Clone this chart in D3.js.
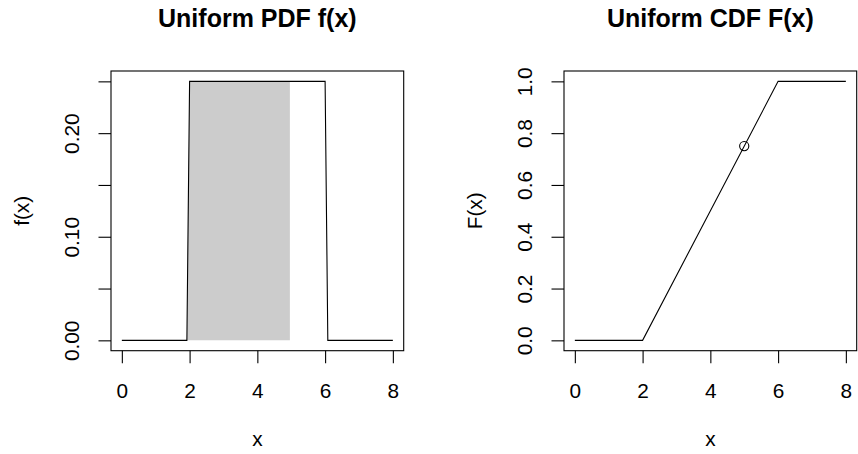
<!DOCTYPE html>
<html>
<head>
<meta charset="utf-8">
<script src="https://cdn.jsdelivr.net/npm/d3@7"></script>
<style>
  body { margin: 0; background: #fff; }
  svg { display: block; font-family: "Liberation Sans", Arial, sans-serif; }
</style>
</head>
<body>
<script>
'use strict';

// ---- data ----
// uniform(2, 6) density, sampled on a 0.08 grid (so the jumps are slightly slanted)
const pdfX = [0, 1.92, 2, 6, 6.08, 8];
const pdfY = [0, 0, 0.25, 0.25, 0, 0];
// shaded area P(X <= 5)
const shadeX = [1.92, 2, 4.96, 4.96];
const shadeY = [0, 0.25, 0.25, 0];
// distribution function
const cdfX = [0, 2, 6, 8];
const cdfY = [0, 0, 1, 1];
// marked point F(5)
const markX = [5];
const markY = [0.75];

const xTicks = [0, 2, 4, 6, 8];
const pdfTicks = [0, 0.05, 0.10, 0.15, 0.20, 0.25];
const pdfTickLabels = ["0.00", "", "0.10", "", "0.20", ""];
const cdfTicks = [0, 0.2, 0.4, 0.6, 0.8, 1.0];
const cdfTickLabels = ["0.0", "0.2", "0.4", "0.6", "0.8", "1.0"];

const W = 858, H = 454;
const FONT = 20.8;

const svg = d3.select('body').append('svg')
  .attr('width', W)
  .attr('height', H);

// R style: 4% padding around the data range
function padded(lo, hi) {
  let d = (hi - lo) * 0.04;
  return [lo - d, hi + d];
}

function drawPanel(opts) {
  let g = svg.append('g').attr('transform', 'translate(' + opts.left + ',0)');
  let top = 71, bw = 292.7, bh = 279.7;

  let x = d3.scaleLinear().domain(padded(0, 8)).range([0, bw]);
  let y = d3.scaleLinear().domain(padded(opts.yMin, opts.yMax)).range([top + bh, top]);

  // shaded region first so the curve sits on top
  if (opts.shade) {
    g.append('path')
      .datum(d3.zip(opts.shade[0], opts.shade[1]))
      .attr('d', d3.line().x(d => x(d[0])).y(d => y(d[1])))
      .attr('fill', '#cccccc')
      .attr('stroke', 'none');
  }

  g.append('path')
    .datum(d3.zip(opts.lineX, opts.lineY))
    .attr('d', d3.line().x(d => x(d[0])).y(d => y(d[1])))
    .attr('fill', 'none')
    .attr('stroke', '#000')
    .attr('stroke-width', 1.1);

  if (opts.points) {
    g.selectAll('.pt')
      .data(d3.zip(opts.points[0], opts.points[1]))
      .enter()
      .append('circle')
      .attr('cx', d => x(d[0]))
      .attr('cy', d => y(d[1]))
      .attr('r', 4.6)
      .attr('fill', 'none')
      .attr('stroke', '#000')
      .attr('stroke-width', 1.1);
  }

  // box
  g.append('rect')
    .attr('x', 0)
    .attr('y', top)
    .attr('width', bw)
    .attr('height', bh)
    .attr('fill', 'none')
    .attr('stroke', '#000')
    .attr('stroke-width', 1.1);

  // x axis
  let xAxis = d3.axisBottom(x).tickValues(xTicks).tickSize(12.5).tickSizeOuter(0)
    .tickFormat(d3.format('d'));
  let gx = g.append('g')
    .attr('transform', 'translate(0,' + (top + bh) + ')')
    .call(xAxis);
  gx.select('.domain').remove();
  gx.selectAll('line').attr('stroke', '#000').attr('stroke-width', 1.1);
  gx.selectAll('text')
    .attr('y', 47.3)
    .attr('dy', null)
    .attr('fill', '#000')
    .style('font-size', FONT + 'px');

  // y axis, labels turned parallel to the axis
  let yAxis = d3.axisLeft(y).tickValues(opts.yTicks).tickSize(12.5).tickSizeOuter(0)
    .tickFormat((d, i) => opts.yLabels[i]);
  let gy = g.append('g').call(yAxis);
  gy.select('.domain').remove();
  gy.selectAll('line').attr('stroke', '#000').attr('stroke-width', 1.1);
  gy.selectAll('text')
    .attr('x', null)
    .attr('dy', null)
    .attr('transform', 'translate(-32,0) rotate(-90)')
    .attr('text-anchor', 'middle')
    .attr('fill', '#000')
    .style('font-size', FONT + 'px');

  // axis titles
  g.append('text')
    .attr('x', bw / 2)
    .attr('y', 446)
    .attr('text-anchor', 'middle')
    .style('font-size', FONT + 'px')
    .text('x');

  g.append('text')
    .attr('transform', 'translate(-82,' + (top + bh / 2) + ') rotate(-90)')
    .attr('text-anchor', 'middle')
    .style('font-size', FONT + 'px')
    .text(opts.yTitle);

  // main title
  g.append('text')
    .attr('x', bw / 2)
    .attr('y', 27)
    .attr('text-anchor', 'middle')
    .style('font-size', '25px')
    .style('font-weight', 'bold')
    .text(opts.title);
}

drawPanel({
  left: 111,
  yMin: 0, yMax: 0.25,
  lineX: pdfX, lineY: pdfY,
  shade: [shadeX, shadeY],
  yTicks: pdfTicks, yLabels: pdfTickLabels,
  yTitle: 'f(x)',
  title: 'Uniform PDF f(x)'
});

drawPanel({
  left: 564,
  yMin: 0, yMax: 1,
  lineX: cdfX, lineY: cdfY,
  points: [markX, markY],
  yTicks: cdfTicks, yLabels: cdfTickLabels,
  yTitle: 'F(x)',
  title: 'Uniform CDF F(x)'
});
</script>
</body>
</html>
